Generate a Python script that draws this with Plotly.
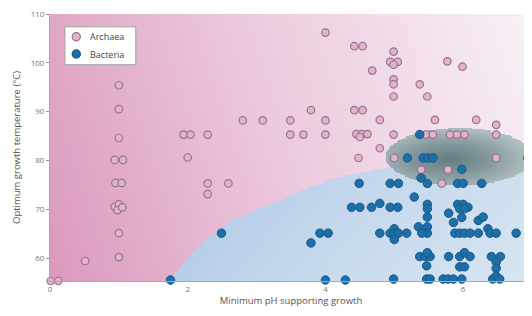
import numpy as np
import plotly.graph_objects as go

# ---------------- data ----------------
archaea_ph = [1.0, 1.0, 1.0, 0.94, 1.06, 0.95, 1.04, 0.94, 1.0, 0.98, 1.05, 1.0, 1.0, 0.51, 0.01, 0.12,
              2.0, 1.94, 2.04, 2.29, 2.29, 2.29, 2.59, 2.80, 3.09, 3.49, 3.49, 3.68, 3.79, 4.0, 4.0, 4.0,
              4.42, 4.54, 4.99, 4.94, 5.05, 4.99, 4.68, 5.77, 5.99, 4.99, 4.99, 4.99, 5.37, 5.48,
              4.42, 4.54, 4.79, 5.59, 6.19, 6.48, 4.45, 4.53, 4.61, 4.50, 4.99, 5.46, 5.56,
              5.81, 5.91, 6.02, 6.48, 4.79, 4.48, 5.0, 6.48, 5.39, 5.78, 5.69]
archaea_temp = [95.4, 90.5, 84.6, 80.1, 80.1, 75.4, 75.4, 70.5, 71.0, 69.8, 70.4, 65.1, 60.2, 59.4, 55.3, 55.3,
                80.6, 85.3, 85.3, 85.3, 75.3, 73.1, 75.3, 88.2, 88.2, 88.2, 85.3, 85.3, 90.3, 106.2, 88.2, 85.3,
                103.4, 103.4, 102.3, 100.2, 100.2, 99.6, 98.4, 100.3, 99.2, 96.6, 95.6, 93.1, 95.6, 93.1,
                90.3, 90.3, 88.3, 88.3, 88.3, 87.3, 85.4, 85.4, 85.4, 84.8, 85.3, 85.3, 85.3,
                85.3, 85.3, 85.3, 85.3, 82.5, 80.5, 80.5, 80.5, 78.1, 78.1, 75.3]

bacteria_ph = [1.75, 2.49, 3.79, 3.92, 4.04, 4.0, 4.29,
               5.37, 5.19, 5.42, 5.49, 5.56, 6.94, 5.98, 5.39,
               4.49, 4.94, 5.06, 5.48, 5.92, 6.0, 6.27, 5.29,
               4.38, 4.50, 4.67, 4.79, 4.94, 5.05, 5.48, 5.48, 5.48,
               5.92, 6.0, 6.07, 5.95, 6.02, 5.79, 5.86, 5.98, 6.22, 6.29,
               4.79, 4.94, 5.0, 5.0, 5.06, 5.0, 5.18, 5.35, 5.42, 5.48, 5.48, 5.40,
               5.88, 5.95, 6.02, 6.10, 6.22, 6.36, 6.39, 6.48, 6.77,
               5.37, 5.45, 5.52, 5.48, 5.47, 5.79, 5.95, 6.02, 6.10, 5.95, 6.02, 6.41, 6.54, 6.48, 6.48,
               4.99, 5.47, 5.52, 5.71, 5.78, 5.86, 5.98, 6.43, 6.48, 6.53]
bacteria_temp = [55.5, 65.1, 63.1, 65.1, 65.1, 55.5, 55.5,
                 85.3, 80.5, 80.5, 80.5, 80.5, 80.5, 78.2, 76.4,
                 75.3, 75.3, 75.3, 75.3, 75.3, 75.3, 75.3, 72.5,
                 70.4, 70.4, 70.4, 71.2, 70.4, 70.4, 71.0, 70.1, 68.4,
                 71.0, 71.0, 70.4, 70.1, 70.1, 69.2, 67.3, 68.3, 67.7, 68.4,
                 65.1, 65.1, 66.0, 65.1, 65.1, 63.8, 65.1, 66.4, 65.8, 66.4, 65.1, 65.1,
                 65.1, 65.1, 65.1, 65.1, 65.1, 66.0, 65.1, 65.1, 65.1,
                 60.3, 60.3, 60.3, 61.1, 58.4, 60.3, 60.3, 61.1, 60.3, 58.2, 58.2, 60.3, 60.3, 59.2, 57.9,
                 55.7, 55.7, 55.7, 55.7, 55.7, 55.7, 55.7, 55.7, 56.3, 55.7]

series_names = ["Archaea", "Bacteria"]
archaea_fill, archaea_edge = "#e3b2cf", "#957389"
bacteria_fill, bacteria_edge = "#1d6ea9", "#175a86"

# boundary of the bacteria (blue) region
boundary_ph = [1.72, 2.0, 2.2, 2.6, 3.17, 3.7, 4.17, 4.91, 6.0, 7.0]
boundary_temp = [55.3, 59.8, 63.0, 67.4, 70.8, 74.0, 76.5, 78.6, 80.5, 82.0]

# grey ellipse highlight
ell_center = (5.95, 80.7)
ell_semi = (1.07, 5.9)

x_range = [0, 7]
y_range = [55.3, 110]
x_ticks = [0, 2, 4, 6]
y_ticks = [60, 70, 80, 90, 100, 110]

# ---------------- background layers ----------------
gx = np.linspace(x_range[0], x_range[1], 360)
gy = np.linspace(y_range[0], y_range[1], 220)
GX, GY = np.meshgrid(gx, gy)

pink_z = 0.85 * (GX - x_range[0]) / 7 + 0.15 * (GY - y_range[0]) / 55

bound = np.interp(GX, boundary_ph, boundary_temp)
blue_mask = (GX >= boundary_ph[0]) & (GY <= bound)
blue_z = np.where(blue_mask, (GX - 1.7) / 5.3 * 0.7 + (bound - GY) / 25 * 0.3, np.nan)

r = np.sqrt(((GX - ell_center[0]) / ell_semi[0]) ** 2 + ((GY - ell_center[1]) / ell_semi[1]) ** 2)
rc = np.sqrt(((GX - (ell_center[0] - 0.15)) / ell_semi[0]) ** 2 + ((GY - (ell_center[1] - 0.5)) / ell_semi[1]) ** 2)
ell_z = np.where(r <= 1, np.clip(rc, 0, 1.2), np.nan)

fig = go.Figure()
fig.add_trace(go.Heatmap(x=gx, y=gy, z=pink_z, zsmooth="best", showscale=False, hoverinfo="skip",
                         showlegend=False,
                         colorscale=[[0, "#db99bc"], [0.45, "#ebc7db"], [1, "#f8f1f6"]]))
fig.add_trace(go.Heatmap(x=gx, y=gy, z=blue_z, zsmooth=False, showscale=False, hoverinfo="skip",
                         showlegend=False,
                         colorscale=[[0, "#b6cde8"], [1, "#d8e6f3"]]))
fig.add_trace(go.Heatmap(x=gx, y=gy, z=ell_z, zsmooth=False, showscale=False, hoverinfo="skip",
                         showlegend=False, zmin=0, zmax=1.2,
                         colorscale=[[0, "#647d82"], [0.45, "#83989c"], [0.8, "#a5b5b8"], [1, "#b8c5c8"]]))

fig.add_trace(go.Scatter(x=archaea_ph, y=archaea_temp, mode="markers", name=series_names[0],
                         cliponaxis=False, showlegend=False,
                         marker=dict(size=7.5, color=archaea_fill, line=dict(color=archaea_edge, width=1.2))))
fig.add_trace(go.Scatter(x=bacteria_ph, y=bacteria_temp, mode="markers", name=series_names[1],
                         cliponaxis=False, showlegend=False,
                         marker=dict(size=8.5, color=bacteria_fill, line=dict(color=bacteria_edge, width=1))))

# ---------------- legend box (paper coordinates) ----------------
fig.add_shape(type="rect", xref="paper", yref="paper", x0=0.031, x1=0.178, y0=0.81, y1=0.952,
              fillcolor="white", line=dict(color="#a0a0a0", width=1), layer="above")
legend_rows_y = [0.915, 0.850]
legend_cols = [(archaea_fill, archaea_edge), (bacteria_fill, bacteria_edge)]
for name, yy, (fc, ec) in zip(series_names, legend_rows_y, legend_cols):
    fig.add_shape(type="circle", xref="paper", yref="paper",
                  x0=0.0545 - 0.0085, x1=0.0545 + 0.0085, y0=yy - 0.0153, y1=yy + 0.0153,
                  fillcolor=fc, line=dict(color=ec, width=1.2), layer="above")
    fig.add_annotation(x=0.079, y=yy, xref="paper", yref="paper", text=name, showarrow=False,
                       xanchor="left", yanchor="middle", font=dict(size=9, color="#444"))

font_family = "Open Sans, Lato, DejaVu Sans, sans-serif"
fig.update_layout(
    width=524, height=308,
    margin=dict(l=42, r=0, t=6, b=35, autoexpand=False),
    paper_bgcolor="white", plot_bgcolor="white",
    font=dict(family=font_family, color="#555"),
    showlegend=False,
    xaxis=dict(range=x_range, tickvals=x_ticks, showgrid=False, zeroline=False, automargin=False,
               showline=True, linecolor="#a8a8a8", linewidth=1, ticks="",
               tickfont=dict(size=8, color="#777"), ticklabeloverflow="allow",
               title=dict(text="Minimum pH supporting growth", font=dict(size=9.5, color="#555"), standoff=3)),
    yaxis=dict(range=y_range, tickvals=y_ticks, showgrid=False, zeroline=False, automargin=False,
               showline=True, linecolor="#a8a8a8", linewidth=1, ticks="outside", ticklen=3,
               tickcolor="#999", tickfont=dict(size=8, color="#777"), ticklabeloverflow="allow",
               title=dict(text="Optimum growth temperature (°C)", font=dict(size=9.5, color="#555"), standoff=8)),
)

fig.write_html("out.html")
